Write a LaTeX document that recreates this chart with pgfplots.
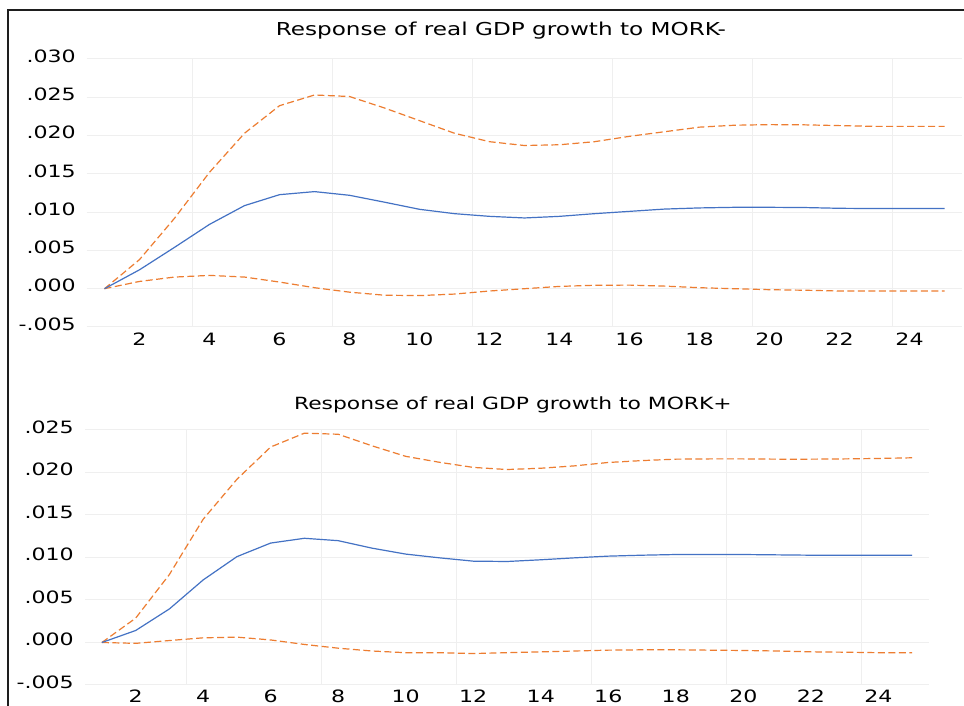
\documentclass[border=0pt]{standalone}
\usepackage{fontspec}
\setmainfont{DejaVu Sans}[FakeStretch=1.3]
\usepackage{pgfplots}
\usepackage{pgfplotstable}
\pgfplotsset{compat=1.18}
\definecolor{irfblue}{HTML}{4472C4}
\definecolor{irforange}{HTML}{ED7D31}
\definecolor{gridc}{HTML}{EFEFEF}
\definecolor{framec}{HTML}{1E1E1E}

\pgfplotstableread{
x mid up lo
1 0 0 0
2 0.00247 0.0038 0.00095
3 0.0054 0.0092 0.00152
4 0.0084 0.0152 0.00174
5 0.01085 0.0203 0.00152
6 0.01228 0.0239 0.00087
7 0.01268 0.0253 0.00013
8 0.0122 0.0251 -0.00045
9 0.0113 0.0236 -0.00085
10 0.01037 0.02195 -0.0009
11 0.0098 0.0203 -0.0007
12 0.00945 0.0192 -0.0003
13 0.00924 0.0187 0.0000
14 0.00945 0.0188 0.0003
15 0.0098 0.0192 0.00045
16 0.0101 0.0199 0.00047
17 0.0104 0.0205 0.00034
18 0.01055 0.0211 0.00013
19 0.01063 0.02135 0
20 0.01063 0.02143 -0.00013
21 0.0106 0.0214 -0.0002
22 0.0105 0.0213 -0.0003
23 0.01047 0.0212 -0.0003
24 0.01047 0.0212 -0.0003
25 0.01047 0.0212 -0.0003
}\minus

\pgfplotstableread{
x mid up lo
1 0 0 0
2 0.00141 0.00286 -0.0001
3 0.00395 0.0080 0.00023
4 0.00736 0.0145 0.00055
5 0.0101 0.0192 0.00063
6 0.0117 0.0230 0.0003
7 0.01226 0.02463 -0.00023
8 0.01198 0.0245 -0.00067
9 0.0111 0.02314 -0.001
10 0.0104 0.0219 -0.0012
11 0.00996 0.0212 -0.0012
12 0.00957 0.0206 -0.0013
13 0.00953 0.02035 -0.0012
14 0.00973 0.0205 -0.0011
15 0.00996 0.02078 -0.001
16 0.01016 0.02118 -0.0009
17 0.01027 0.0214 -0.00086
18 0.01035 0.02157 -0.00086
19 0.01035 0.0216 -0.0009
20 0.01035 0.0216 -0.00094
21 0.01031 0.02157 -0.001
22 0.01027 0.02157 -0.0011
23 0.01027 0.0216 -0.00114
24 0.01027 0.02165 -0.0012
25 0.01027 0.02173 -0.0012
}\plus

\pgfplotsset{irf/.style={
  scale only axis, anchor=south west,
  xmin=0.5, xmax=25.5,
  axis line style={draw=none},
  major tick length=0pt, minor tick length=0pt,
  xtick={2,4,...,24},
  minor xtick={3.5,7.5,11.5,15.5,19.5,23.5},
  xminorgrids=true, xmajorgrids=false, ymajorgrids=true,
  grid style={draw=gridc, line width=1pt},
  minor grid style={draw=gridc, line width=1pt},
  scaled y ticks=false, scaled x ticks=false,
  /pgf/number format/assume math mode=true,
  ticklabel style={font=\fontsize{17}{20}\selectfont, inner sep=0pt},
  yticklabel style={anchor=east, xshift=-11pt, yshift=3pt},
  xticklabel style={anchor=north, yshift=-6pt},
  every axis plot/.append style={line width=1.2pt},
  clip=false,
}}

\begin{document}
\begin{tikzpicture}
\useasboundingbox (0,0) rectangle (964pt,706pt);
\fill[white] (0,0) rectangle (964pt,706pt);

\begin{axis}[irf,
  at={(87pt,379pt)}, width=875pt, height=268pt,
  ymin=-0.005, ymax=0.03,
  ytick={-0.005,0,0.005,0.01,0.015,0.02,0.025,0.03},
  yticklabels={-.005,.000,.005,.010,.015,.020,.025,.030},
  title={Response of real GDP growth to MORK-},
  title style={font=\fontsize{17.8}{20}\selectfont, inner sep=0pt, at={(axis description cs:0.473,1.066)}, anchor=base},
]
\addplot[irforange, dash pattern=on 7pt off 3.5pt] table[x=x,y=up] {\minus};
\addplot[irforange, dash pattern=on 7pt off 3.5pt] table[x=x,y=lo] {\minus};
\addplot[irfblue] table[x=x,y=mid] {\minus};
\end{axis}

\begin{axis}[irf,
  at={(85pt,21pt)}, width=844pt, height=255pt,
  ymin=-0.005, ymax=0.025,
  ytick={-0.005,0,0.005,0.01,0.015,0.02,0.025},
  yticklabels={-.005,.000,.005,.010,.015,.020,.025},
  xticklabel style={yshift=1pt},
  title={Response of real GDP growth to MORK+},
  title style={font=\fontsize{16.8}{20}\selectfont, inner sep=0pt, at={(axis description cs:0.507,1.056)}, anchor=base},
]
\addplot[irforange, dash pattern=on 7pt off 3.5pt] table[x=x,y=up] {\plus};
\addplot[irforange, dash pattern=on 7pt off 3.5pt] table[x=x,y=lo] {\plus};
\addplot[irfblue] table[x=x,y=mid] {\plus};
\end{axis}

\draw[framec, line width=2pt] (8pt,0pt) -- (8pt,696pt) -- (964pt,696pt);
\end{tikzpicture}
\end{document}
